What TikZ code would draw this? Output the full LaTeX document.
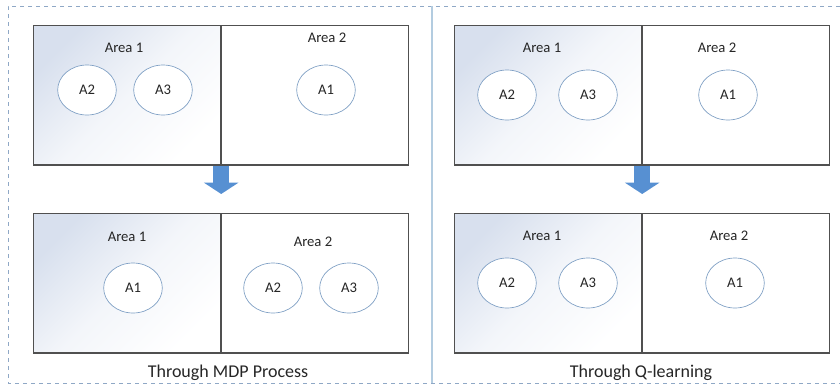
\documentclass[tikz,border=0pt]{standalone}
\usepackage{fontspec}
\setmainfont{Carlito}
\usetikzlibrary{arrows.meta, shapes.geometric}
\definecolor{framegray}{HTML}{8FA8C6}
\definecolor{sepblue}{HTML}{B3CCE0}
\definecolor{boxgray}{HTML}{505050}
\definecolor{ringblue}{HTML}{7E9FC4}
\definecolor{shadetop}{HTML}{D8E0EE}
\definecolor{arrowblue}{HTML}{5790D2}
\definecolor{txtgray}{HTML}{262626}
\tikzset{
  half/.style={draw=boxgray, line width=0.9pt, minimum width=140.25pt, minimum height=104.5pt, anchor=north west, inner sep=0pt},
  tinted/.style={half, top color=shadetop, bottom color=white, middle color=shadetop!30!white, shading angle=45},
  agent/.style={ellipse, draw=ringblue, line width=0.5pt, fill=white, minimum width=44pt, minimum height=37.5pt, inner sep=0pt, font=\fontsize{11}{13}\selectfont, text=txtgray},
  area/.style={font=\fontsize{11}{13}\selectfont, text=txtgray},
  caption/.style={font=\fontsize{13.5}{16}\selectfont, text=txtgray},
  flow/.style={draw=arrowblue, line width=12pt, -{Triangle[width=25.5pt, length=8.5pt]}}
}

\begin{document}
\begin{tikzpicture}[x=0.75pt, y=-0.75pt]
  \useasboundingbox (0,0) rectangle (840,386);
  % frame
  \draw[framegray, dashed, line width=0.7pt] (840,6) -- (8,6) -- (8,383) -- (840,383);
  \draw[sepblue, line width=1.2pt] (432,6) -- (432,383);
  %
  % MDP process, before
  \node[tinted] (mt1) at (33,25) {};
  \node[half] (mt2) at (mt1.north east) {};
  \node[area] (mta1) at (124,48) {Area 1};
  \node[area] (mta2) at (327,38) {Area 2};
  \node[agent] (mtA2) at (87,90) {A2};
  \node[agent] (mtA3) at (163,90) {A3};
  \node[agent] (mtA1) at (326,90) {A1};
  %
  % MDP process, after
  \node[tinted] (mb1) at (33,213) {};
  \node[half] (mb2) at (mb1.north east) {};
  \node[area] (mba1) at (127,237) {Area 1};
  \node[area] (mba2) at (313,242) {Area 2};
  \node[agent] (mbA1) at (133,288) {A1};
  \node[agent] (mbA2) at (273,288) {A2};
  \node[agent] (mbA3) at (349,288) {A3};
  \node[caption] (mcap) at (228,373) {Through MDP Process};
  \coordinate (mtip) at (mt1.south east |- 0,194);
  \draw[flow] (mt1.south east) -- (mtip);
  %
  % Q-learning, before
  \node[tinted] (qt1) at (454,25) {};
  \node[half] (qt2) at (qt1.north east) {};
  \node[area] (qta1) at (542,48) {Area 1};
  \node[area] (qta2) at (717,48) {Area 2};
  \node[agent] (qtA2) at (507,95) {A2};
  \node[agent] (qtA3) at (588,95) {A3};
  \node[agent] (qtA1) at (728,95) {A1};
  %
  % Q-learning, after
  \node[tinted] (qb1) at (454,213) {};
  \node[half] (qb2) at (qb1.north east) {};
  \node[area] (qba1) at (542,236) {Area 1};
  \node[area] (qba2) at (729,236) {Area 2};
  \node[agent] (qbA2) at (507,283) {A2};
  \node[agent] (qbA3) at (588,283) {A3};
  \node[agent] (qbA1) at (735,283) {A1};
  \node[caption] (qcap) at (641,373) {Through Q-learning};
  \coordinate (qtip) at (qt1.south east |- 0,194);
  \draw[flow] (qt1.south east) -- (qtip);
\end{tikzpicture}
\end{document}
